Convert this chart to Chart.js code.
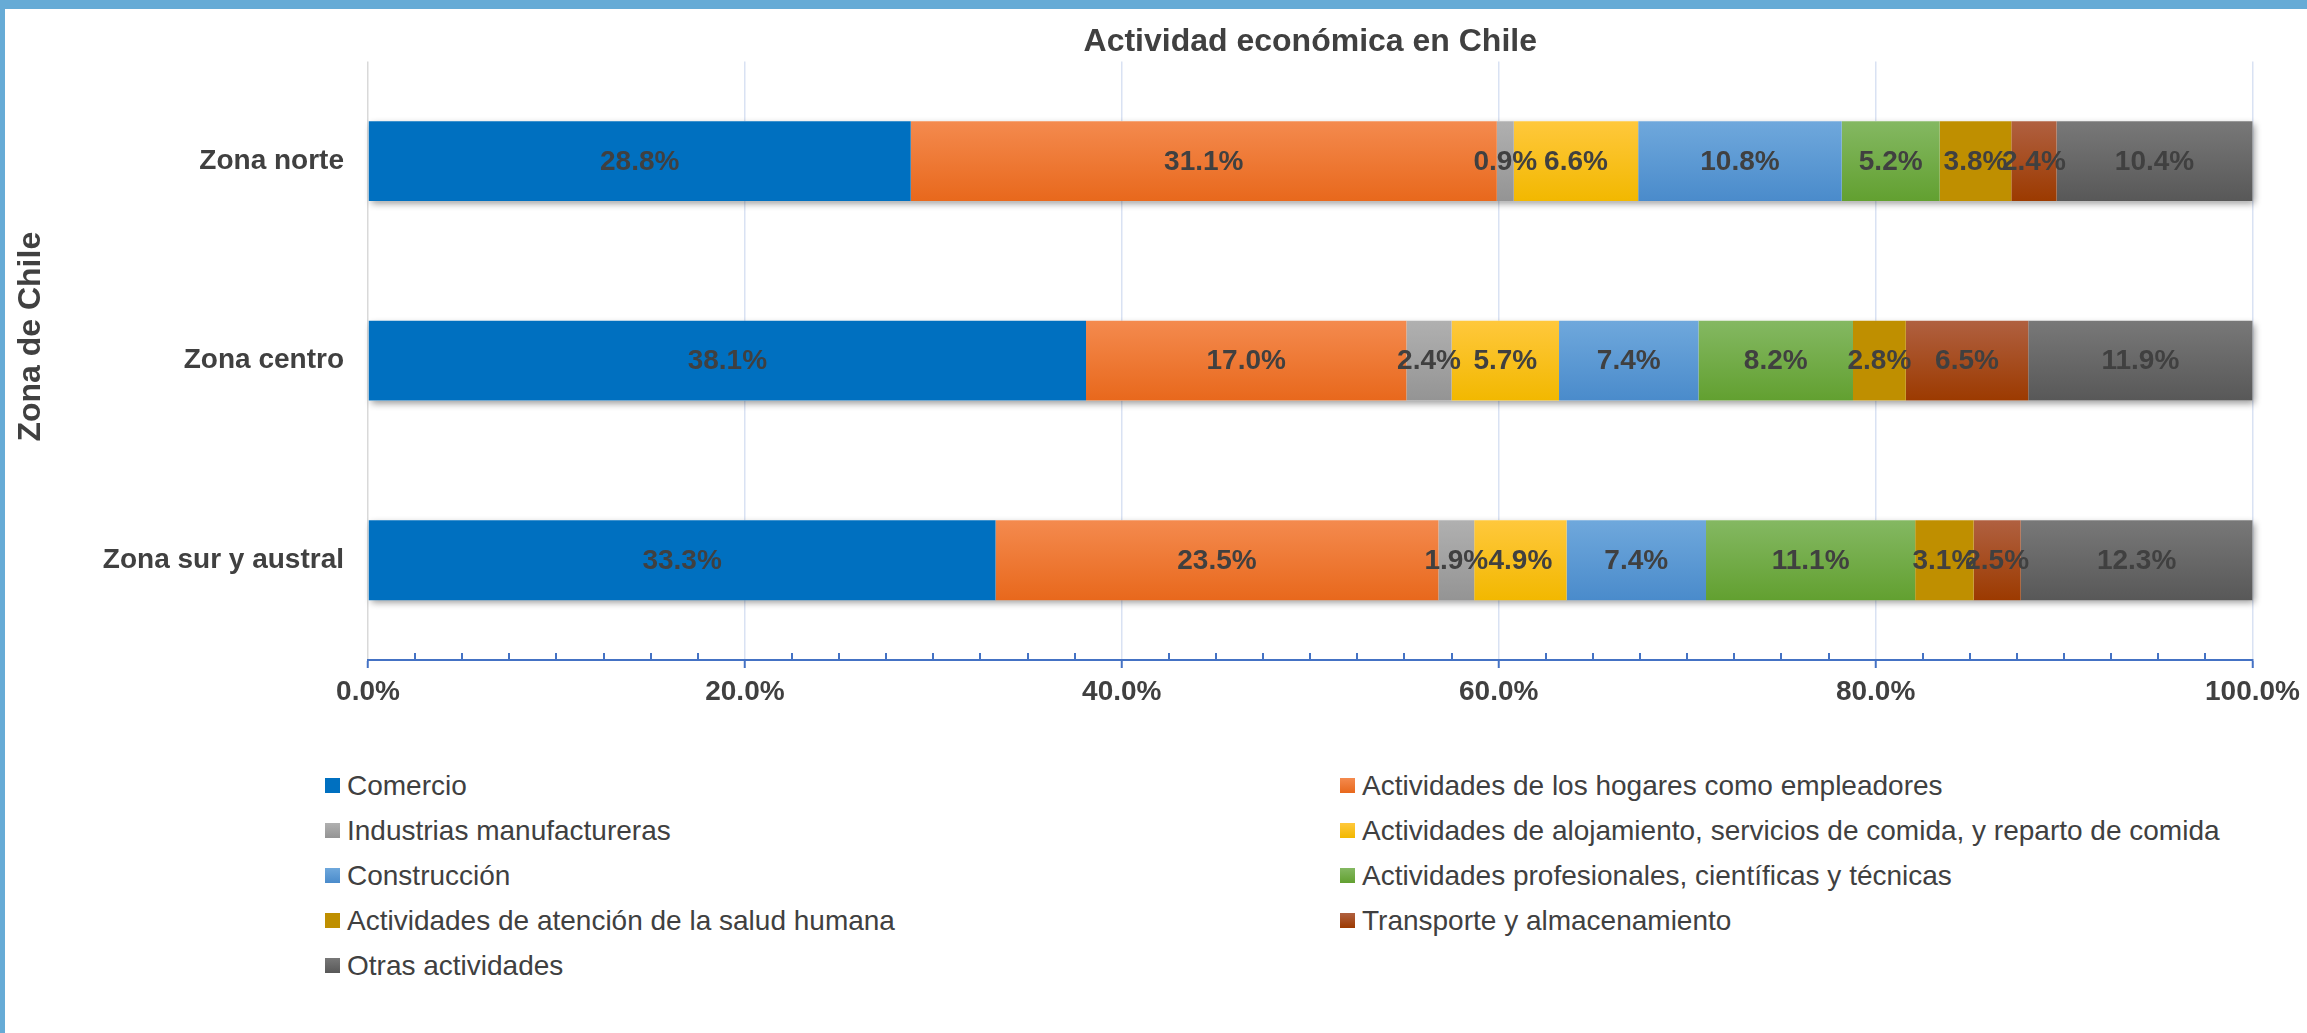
<!DOCTYPE html>
<html>
<head>
<meta charset="utf-8">
<title>Actividad económica en Chile</title>
<script src="https://cdn.jsdelivr.net/npm/chart.js@4.4.0/dist/chart.umd.min.js"></script>
<style>
  html, body { margin: 0; padding: 0; background: #fff; }
  #frame { position: relative; width: 2307px; height: 1033px; overflow: hidden; font-family: "Liberation Sans", Arial, sans-serif; }
  #chart { position: absolute; left: 0; top: 0; }
  .edge { position: absolute; background: #66abd6; }
  #legend { position: absolute; left: 325px; top: 763px; display: grid; grid-template-columns: 1015px auto; grid-auto-rows: 45px; }
  .item { display: flex; align-items: center; font-size: 28px; color: #404040; white-space: nowrap; }
  .box { width: 15px; height: 15px; margin-right: 7px; flex: none; }
</style>
</head>
<body>
<div id="frame">
  <canvas id="chart" width="2307" height="720"></canvas>
  <div id="legend"></div>
  <div class="edge" style="left:0;top:0;width:2307px;height:9px"></div>
  <div class="edge" style="left:0;top:0;width:5px;height:1033px"></div>
</div>
<script>
// data
var zones = ["Zona norte", "Zona centro", "Zona sur y austral"];
var comercio = [28.8, 38.1, 33.3];
var hogares = [31.1, 17.0, 23.5];
var industrias = [0.9, 2.4, 1.9];
var alojamiento = [6.6, 5.7, 4.9];
var construccion = [10.8, 7.4, 7.4];
var profesionales = [5.2, 8.2, 11.1];
var salud = [3.8, 2.8, 3.1];
var transporte = [2.4, 6.5, 2.5];
var otras = [10.4, 11.9, 12.3];
var seriesNames = [
  "Comercio",
  "Actividades de los hogares como empleadores",
  "Industrias manufactureras",
  "Actividades de alojamiento, servicios de comida, y reparto de comida",
  "Construcción",
  "Actividades profesionales, científicas y técnicas",
  "Actividades de atención de la salud humana",
  "Transporte y almacenamiento",
  "Otras actividades"
];
var xTicks = [0, 20, 40, 60, 80, 100];

// styles
var seriesValues = [comercio, hogares, industrias, alojamiento, construccion, profesionales, salud, transporte, otras];
var seriesTop = ["#0070c0", "#f48a4e", "#b0b0b0", "#ffc83c", "#6fa8dc", "#84b862", "#bf8f00", "#b06040", "#787878"];
var seriesBottom = ["#0070c0", "#e8681c", "#949494", "#f2b800", "#4a8bcb", "#62a030", "#bf8f00", "#9c3a00", "#585858"];
var textColor = "#404040";
var fontFamily = "'Liberation Sans', Arial, sans-serif";
var barPct = 0.5, catPct = 0.8;

Chart.defaults.font.family = fontFamily;

function barFill(i) {
  return function (ctx) {
    var chart = ctx.chart;
    var y = chart.scales.y;
    if (!y || ctx.type !== "data" || !y.height) return seriesTop[i];
    var cy = y.getPixelForValue(ctx.dataIndex);
    var half = (y.height / zones.length) * catPct * barPct / 2;
    var g = chart.ctx.createLinearGradient(0, cy - half, 0, cy + half);
    g.addColorStop(0, seriesTop[i]);
    g.addColorStop(1, seriesBottom[i]);
    return g;
  };
}

// shadow behind each whole stack + value labels
var barTextPlugin = {
  id: "barText",
  beforeDatasetsDraw: function (chart) {
    var c = chart.ctx;
    var first = chart.getDatasetMeta(0);
    var last = chart.getDatasetMeta(chart.data.datasets.length - 1);
    c.save();
    c.shadowColor = "rgba(0,0,0,0.4)";
    c.shadowBlur = 7;
    c.shadowOffsetX = 2;
    c.shadowOffsetY = 3;
    c.fillStyle = "#ffffff";
    first.data.forEach(function (bar, j) {
      var end = last.data[j];
      c.fillRect(bar.base, bar.y - bar.height / 2, end.x - bar.base, bar.height);
    });
    c.restore();
  },
  afterDatasetsDraw: function (chart) {
    var c = chart.ctx;
    c.save();
    c.font = "bold 28px " + fontFamily;
    c.fillStyle = textColor;
    c.textAlign = "center";
    c.textBaseline = "middle";
    chart.data.datasets.forEach(function (ds, i) {
      var meta = chart.getDatasetMeta(i);
      meta.data.forEach(function (bar, j) {
        c.fillText(ds.data[j].toFixed(1) + "%", (bar.x + bar.base) / 2, bar.y + 1);
      });
    });
    c.restore();
  },
  afterLayout: function (chart) {
    // centre the title over the plot area, like the original
    if (chart.titleBlock) {
      chart.titleBlock.left = chart.chartArea.left;
      chart.titleBlock.right = chart.chartArea.right;
    }
  },
  afterDraw: function (chart) {
    // minor tick marks pointing up from the value axis
    var c = chart.ctx;
    var x = chart.scales.x;
    var yb = chart.chartArea.bottom;
    c.save();
    c.strokeStyle = "#4472c4";
    c.lineWidth = 2;
    c.beginPath();
    for (var v = 2.5; v < 100; v += 2.5) {
      if (v % 20 === 0) continue;
      var px = Math.round(x.getPixelForValue(v));
      c.moveTo(px, yb);
      c.lineTo(px, yb - 7);
    }
    c.stroke();
    c.restore();
  }
};

var config = {
  type: "bar",
  data: {
    labels: zones,
    datasets: seriesNames.map(function (name, i) {
      return {
        label: name,
        data: seriesValues[i],
        backgroundColor: barFill(i),
        borderWidth: 0,
        barPercentage: barPct,
        categoryPercentage: catPct,
        clip: false
      };
    })
  },
  options: {
    indexAxis: "y",
    responsive: false,
    animation: false,
    events: [],
    layout: { padding: { left: 8, right: 51, top: 0, bottom: 0 } },
    plugins: {
      legend: { display: false },
      tooltip: { enabled: false },
      title: {
        display: true,
        text: "Actividad económica en Chile",
        color: textColor,
        font: { size: 32, weight: "bold" },
        padding: { top: 23, bottom: 0 }
      }
    },
    scales: {
      x: {
        type: "linear",
        stacked: true,
        min: 0,
        max: 100,
        afterBuildTicks: function (scale) {
          scale.ticks = xTicks.map(function (v) { return { value: v }; });
        },
        afterFit: function (scale) { scale.height = 60; },
        ticks: {
          color: textColor,
          font: { size: 28, weight: "bold" },
          padding: 7,
          maxRotation: 0,
          callback: function (v) { return Number(v).toFixed(1) + "%"; }
        },
        grid: {
          color: function (c) { return c.tick && c.tick.value === 0 ? "#d9d9d9" : "#d9e2f3"; },
          lineWidth: 1.5,
          tickColor: "#4472c4",
          tickWidth: 2,
          tickLength: 8
        },
        border: { display: true, color: "#4472c4", width: 2 }
      },
      y: {
        stacked: true,
        afterFit: function (scale) {
          scale.width = 360;
          // the original axis title sits a bit above the plot's middle
          if (!scale._titleShifted) {
            var drawTitle = scale.drawTitle;
            scale.drawTitle = function () {
              this.ctx.save();
              this.ctx.translate(0, -24);
              drawTitle.call(this);
              this.ctx.restore();
            };
            scale._titleShifted = true;
          }
        },
        ticks: {
          color: textColor,
          font: { size: 28, weight: "bold" },
          padding: 24
        },
        grid: { display: false, drawTicks: false },
        border: { display: false },
        title: {
          display: true,
          text: "Zona de Chile",
          color: textColor,
          font: { size: 32, weight: "bold" },
          padding: { top: 4, bottom: 0 }
        }
      }
    }
  },
  plugins: [barTextPlugin]
};

var canvasElement = document.getElementById("chart");
var zoneChart = new Chart(canvasElement, config);

// legend in two columns under the chart
var legendBox = document.getElementById("legend");
zoneChart.data.datasets.forEach(function (ds, i) {
  var item = document.createElement("div");
  item.className = "item";
  var box = document.createElement("span");
  box.className = "box";
  box.style.background = "linear-gradient(" + seriesTop[i] + ", " + seriesBottom[i] + ")";
  item.appendChild(box);
  item.appendChild(document.createTextNode(ds.label));
  legendBox.appendChild(item);
});
</script>
</body>
</html>
